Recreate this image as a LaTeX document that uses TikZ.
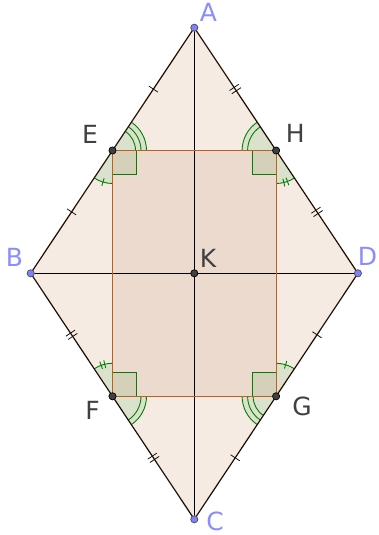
\documentclass[tikz,border=0pt]{standalone}
\usepackage{fontspec}
\setsansfont{DejaVu Sans}
\usetikzlibrary{calc,decorations.markings}

\definecolor{rhombfill}{RGB}{245,235,227}
\definecolor{rectfill}{RGB}{236,218,206}
\definecolor{rectline}{RGB}{196,92,28}
\definecolor{sideline}{RGB}{30,14,6}
\definecolor{anglefillc}{RGB}{218,225,205}
\definecolor{sqfillc}{RGB}{212,208,186}
\definecolor{anglegreen}{RGB}{0,128,0}
\definecolor{ptblue}{RGB}{128,128,255}
\definecolor{lblblue}{RGB}{140,140,255}
\definecolor{ptgray}{RGB}{64,64,64}

\begin{document}
\begin{tikzpicture}[x=1pt,y=1pt,
    lbl/.style={font=\sffamily\fontsize{25}{30}\selectfont, inner sep=0pt},
    side/.style={draw=sideline, line width=1.2pt},
    diag/.style={draw=black, line width=0.9pt},
    rectedge/.style={draw=rectline, line width=1.2pt},
    anglefill/.style={fill=anglefillc},
    anglearc/.style={draw=anglegreen, line width=0.9pt},
    rightsq/.style={fill=sqfillc, draw=anglegreen, line width=0.9pt},
    onetick/.style={postaction={decorate, decoration={markings,
        mark=at position 0.5 with {\draw[line width=0.8pt] (0pt,-5.5pt) -- (0pt,5.5pt);}}}},
    twotick/.style={postaction={decorate, decoration={markings,
        mark=at position 0.5 with {\draw[line width=0.8pt] (-2pt,-5.5pt) -- (-2pt,5.5pt);
                                   \draw[line width=0.8pt] (2pt,-5.5pt) -- (2pt,5.5pt);}}}},
    bluept/.style={fill=ptblue, draw=black!70, line width=0.7pt},
    graypt/.style={fill=ptgray, draw=black, line width=0.7pt}]
    \useasboundingbox (0,0) rectangle (378,535);

    % Vertices of the rhombus
    \coordinate (A) at (194.3,507.3);
    \coordinate (B) at (30.7,261.7);
    \coordinate (C) at (194.3,15.7);
    \coordinate (D) at (357.9,261.7);
    \coordinate (K) at (194.3,261.7);

    % Midpoints of the sides
    \coordinate (E) at ($(A)!0.5!(B)$);
    \coordinate (H) at ($(A)!0.5!(D)$);
    \coordinate (F) at ($(B)!0.5!(C)$);
    \coordinate (G) at ($(C)!0.5!(D)$);

    % Fill rhombus and rectangle
    \fill[rhombfill] (A) -- (B) -- (C) -- (D) -- cycle;
    \fill[rectfill] (E) -- (H) -- (G) -- (F) -- cycle;

    % Angles at E
    \fill[anglefill] (E) -- ++(0:34pt) arc (0:56.3:34pt) -- cycle;
    \foreach \r in {23,28.5,34}
        \draw[anglearc] ([shift={(0:\r pt)}]E) arc (0:56.3:\r pt);
    \fill[anglefill] (E) -- ++(236.3:33pt) arc (236.3:270:33pt) -- cycle;
    \draw[anglearc] ([shift={(236.3:33pt)}]E) arc (236.3:270:33pt);
    \draw[anglearc] ([shift={(253.2:29pt)}]E) -- ([shift={(253.2:37pt)}]E);

    % Angles at H
    \fill[anglefill] (H) -- ++(123.7:34pt) arc (123.7:180:34pt) -- cycle;
    \foreach \r in {28.5,34}
        \draw[anglearc] ([shift={(123.7:\r pt)}]H) arc (123.7:180:\r pt);
    \fill[anglefill] (H) -- ++(270:33pt) arc (270:303.7:33pt) -- cycle;
    \draw[anglearc] ([shift={(270:33pt)}]H) arc (270:303.7:33pt);
    \foreach \t in {283.6,290.1}
        \draw[anglearc] ([shift={(\t:29pt)}]H) -- ([shift={(\t:37pt)}]H);

    % Angles at F
    \fill[anglefill] (F) -- ++(90:33pt) arc (90:123.7:33pt) -- cycle;
    \draw[anglearc] ([shift={(90:33pt)}]F) arc (90:123.7:33pt);
    \foreach \t in {103.6,110.1}
        \draw[anglearc] ([shift={(\t:29pt)}]F) -- ([shift={(\t:37pt)}]F);
    \fill[anglefill] (F) -- ++(303.7:34pt) arc (303.7:360:34pt) -- cycle;
    \foreach \r in {28.5,34}
        \draw[anglearc] ([shift={(303.7:\r pt)}]F) arc (303.7:360:\r pt);

    % Angles at G
    \fill[anglefill] (G) -- ++(56.3:33pt) arc (56.3:90:33pt) -- cycle;
    \draw[anglearc] ([shift={(56.3:33pt)}]G) arc (56.3:90:33pt);
    \draw[anglearc] ([shift={(73.2:29pt)}]G) -- ([shift={(73.2:37pt)}]G);
    \fill[anglefill] (G) -- ++(180:34pt) arc (180:236.3:34pt) -- cycle;
    \foreach \r in {23,28.5,34}
        \draw[anglearc] ([shift={(180:\r pt)}]G) arc (180:236.3:\r pt);

    % Right angles of the rectangle
    \filldraw[rightsq] (E) rectangle ++(24,-24);
    \filldraw[rightsq] (H) rectangle ++(-24,-24);
    \filldraw[rightsq] (F) rectangle ++(24,24);
    \filldraw[rightsq] (G) rectangle ++(-24,24);

    % Draw diagonals
    \draw[diag] (A) -- (C);
    \draw[diag] (B) -- (D);

    % Draw sides with marks
    \draw[side, onetick] (A) -- (E);
    \draw[side, onetick] (E) -- (B);
    \draw[side, twotick] (B) -- (F);
    \draw[side, twotick] (F) -- (C);
    \draw[side, onetick] (C) -- (G);
    \draw[side, onetick] (G) -- (D);
    \draw[side, twotick] (D) -- (H);
    \draw[side, twotick] (H) -- (A);

    % Draw rectangle EHGF
    \draw[rectedge] (E) -- (H) -- (G) -- (F) -- cycle;

    % Mark points
    \foreach \p in {A,B,C,D}
        \filldraw[bluept] (\p) circle (3.6pt);
    \foreach \p in {E,F,G,H,K}
        \filldraw[graypt] (\p) circle (3.6pt);

    % Labels
    \node[lbl, lblblue] (lA) at (208.5,523) {A};
    \node[lbl, lblblue] (lB) at (14.5,278) {B};
    \node[lbl, lblblue] (lC) at (215,13.6) {C};
    \node[lbl, lblblue] (lD) at (367.5,278.5) {D};
    \node[lbl, ptgray] (lK) at (208,276.5) {K};
    \node[lbl, ptgray] (lE) at (90,400.3) {E};
    \node[lbl, ptgray] (lH) at (295.3,401.7) {H};
    \node[lbl, ptgray] (lF) at (92.5,125) {F};
    \node[lbl, ptgray] (lG) at (302,129) {G};
\end{tikzpicture}
\end{document}
